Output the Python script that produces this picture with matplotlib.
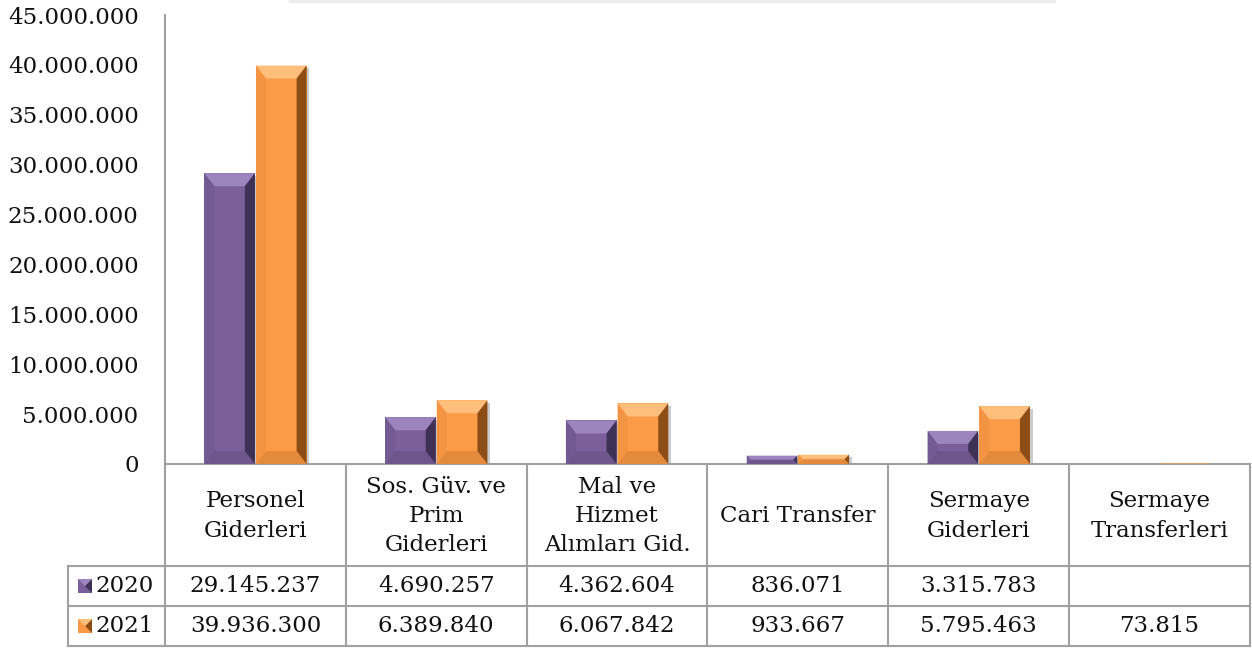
import matplotlib
matplotlib.use('Agg')
import matplotlib.pyplot as plt
from matplotlib.patches import Polygon, Rectangle
from matplotlib.lines import Line2D
import matplotlib.patheffects as pe

plt.rcParams['font.family'] = ['DejaVu Serif']
plt.rcParams['font.size'] = 16.5

# veriler
kategoriler = ['Personel\nGiderleri', 'Sos. Güv. ve\nPrim\nGiderleri', 'Mal ve\nHizmet\nAlımları Gid.',
               'Cari Transfer', 'Sermaye\nGiderleri', 'Sermaye\nTransferleri']
yil_2020 = [29145237, 4690257, 4362604, 836071, 3315783, None]
yil_2021 = [39936300, 6389840, 6067842, 933667, 5795463, 73815]
yillar = ['2020', '2021']

# renkler: yüz, açık, koyu, alt, sol
renk_2020 = ('#7b5f9b', '#9c84bf', '#3f3156', '#6e568c', '#735a93')
renk_2021 = ('#fb9b48', '#ffbf7c', '#8c4d16', '#e48a3c', '#f39443')

W, H = 1252, 648
fig = plt.figure(figsize=(W / 100, H / 100), dpi=100)

ax_l, ax_r, ax_t, ax_b = 165, 1250, 15, 464
ax = fig.add_axes([ax_l / W, (H - ax_b) / H, (ax_r - ax_l) / W, (ax_b - ax_t) / H])
n = len(kategoriler)
ax.set_xlim(-0.5, n - 0.5)
ax.set_ylim(0, 45000000)

ppx = (ax_r - ax_l) / n          # piksel / kategori
ppy = (ax_b - ax_t) / 45000000   # piksel / değer

def fmt(v):
    return f'{v:,.0f}'.replace(',', '.')

def bevel(ax, x0, w, h, renk, bx=10, by=13):
    face, light, dark, low, left = renk
    ax.bar(x0 + w / 2, h, w, color=face, zorder=2,
           path_effects=[pe.SimplePatchShadow(offset=(2, -2), shadow_rgbFace='#555555', alpha=0.3),
                         pe.Normal()])
    hp = h * ppy
    dy = min(by, hp / 2) / ppy
    dx = min(bx, hp / 2) / ppx
    x1 = x0 + w
    parcalar = [
        ([(x0, h), (x1, h), (x1 - dx, h - dy), (x0 + dx, h - dy)], light),
        ([(x0, 0), (x1, 0), (x1 - dx, dy), (x0 + dx, dy)], low),
        ([(x1, 0), (x1, h), (x1 - dx, h - dy), (x1 - dx, dy)], dark),
        ([(x0, 0), (x0, h), (x0 + dx, h - dy), (x0 + dx, dy)], left),
    ]
    for pts, c in parcalar:
        ax.add_patch(Polygon(pts, closed=True, facecolor=c, edgecolor='none', zorder=3))

bw = 0.28
for i in range(n):
    if yil_2020[i]:
        bevel(ax, i - bw - 0.003, bw, yil_2020[i], renk_2020)
    if yil_2021[i]:
        bevel(ax, i + 0.003, bw, yil_2021[i], renk_2021)

ax.set_yticks(range(0, 45000001, 5000000))
ax.set_yticklabels([fmt(v) for v in range(0, 45000001, 5000000)], color='#111111')
ax.tick_params(axis='y', length=0, pad=19)
ax.set_xticks([])
for s in ['top', 'right']:
    ax.spines[s].set_visible(False)
for s in ['left', 'bottom']:
    ax.spines[s].set_color('#a0a0a0')
    ax.spines[s].set_linewidth(1.5)

# tablo
tb_l, tb_b = 68, 646
leg_w = (ax_l - tb_l) / ppx
tx = fig.add_axes([tb_l / W, (H - tb_b) / H, (ax_r - tb_l) / W, (tb_b - ax_b) / H])
tx.set_xlim(-0.5 - leg_w, n - 0.5)
tx.set_ylim(tb_b - ax_b, 0)
tx.axis('off')
r1, r2, r3 = 102, 142, 182
lc = '#a0a0a0'
lw = 1.5
for i in range(n + 1):
    tx.plot([i - 0.5, i - 0.5], [0, r3], color=lc, lw=lw, clip_on=False)
tx.plot([-0.5 - leg_w] * 2, [r1, r3], color=lc, lw=lw, clip_on=False)
for y in (r1, r2, r3):
    tx.plot([-0.5 - leg_w, n - 0.5], [y, y], color=lc, lw=lw, clip_on=False)

for i, k in enumerate(kategoriler):
    tx.text(i, r1 / 2 + 1, k, ha='center', va='center', linespacing=1.42, color='#111111')
for j, (seri, renk) in enumerate([(yil_2020, renk_2020), (yil_2021, renk_2021)]):
    yc = (r1 + r2) / 2 + j * (r2 - r1)
    for i, v in enumerate(seri):
        if v:
            tx.text(i, yc, fmt(v), ha='center', va='center', color='#111111')
    # gösterge kutusu
    kx = -0.5 - leg_w + 10 / ppx
    ks = 14 / ppx
    tx.add_patch(Rectangle((kx, yc - 7), ks, 14, facecolor=renk[0], edgecolor='none'))
    tx.add_patch(Polygon([(kx + ks, yc - 7), (kx + ks, yc + 7), (kx + ks / 2, yc)],
                         facecolor=renk[2], edgecolor='none'))
    tx.add_patch(Polygon([(kx, yc - 7), (kx + ks, yc - 7), (kx + ks / 2, yc)],
                         facecolor=renk[1], edgecolor='none'))
    tx.text(kx + ks + 3 / ppx, yc, yillar[j], ha='left', va='center', color='#111111')

# üstteki başlık kutusunun gölgesi
for k, a in enumerate([0.10, 0.07, 0.04]):
    fig.add_artist(Line2D([290 / W, 1055 / W], [(H - 1 - k) / H] * 2, color='#808080',
                          alpha=a, lw=1.5))

plt.savefig('out.png', dpi=100)
